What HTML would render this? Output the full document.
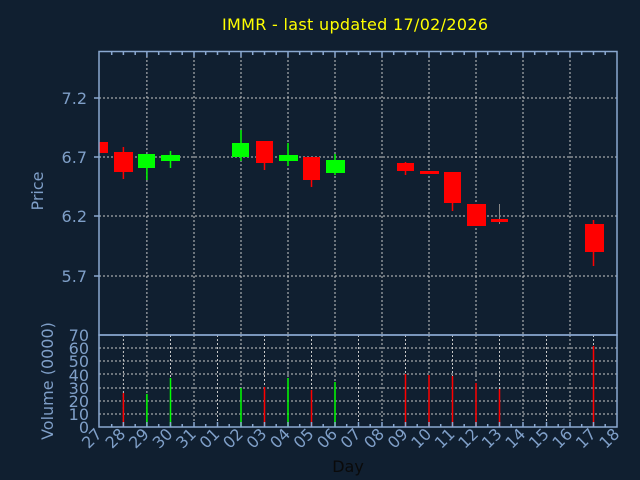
<!DOCTYPE html>
<html><head><meta charset="utf-8"><style>
html,body{margin:0;padding:0;background:#101f30;}
svg{display:block;font-family:"DejaVu Sans","Liberation Sans",sans-serif;}
</style></head><body>
<svg width="640" height="480" viewBox="0 0 640 480" xmlns="http://www.w3.org/2000/svg">
<rect width="640" height="480" fill="#101f30"/>
<text x="355" y="30" fill="#ffff00" font-size="16" text-anchor="middle" textLength="266">IMMR - last updated 17/02/2026</text>
<g stroke="#c8c8c8" stroke-width="1" stroke-dasharray="2,2" fill="none">
<line x1="99" y1="98" x2="617" y2="98"/><line x1="99" y1="157" x2="617" y2="157"/>
<line x1="99" y1="216" x2="617" y2="216"/><line x1="99" y1="276" x2="617" y2="276"/>
<line x1="146.9" y1="52" x2="146.9" y2="335"/><line x1="194" y1="52" x2="194" y2="335"/>
<line x1="241" y1="52" x2="241" y2="335"/><line x1="288" y1="52" x2="288" y2="335"/>
<line x1="335" y1="52" x2="335" y2="335"/><line x1="382" y1="52" x2="382" y2="335"/>
<line x1="429" y1="52" x2="429" y2="335"/><line x1="476" y1="52" x2="476" y2="335"/>
<line x1="523" y1="52" x2="523" y2="335"/><line x1="570" y1="52" x2="570" y2="335"/>
<line x1="99" y1="414" x2="617" y2="414"/><line x1="99" y1="401" x2="617" y2="401"/>
<line x1="99" y1="388" x2="617" y2="388"/><line x1="99" y1="374" x2="617" y2="374"/>
<line x1="99" y1="361" x2="617" y2="361"/><line x1="99" y1="348" x2="617" y2="348"/>
<line x1="123.4" y1="335" x2="123.4" y2="427"/><line x1="146.9" y1="335" x2="146.9" y2="427"/>
<line x1="170.5" y1="335" x2="170.5" y2="427"/><line x1="194" y1="335" x2="194" y2="427"/>
<line x1="217.5" y1="335" x2="217.5" y2="427"/><line x1="241" y1="335" x2="241" y2="427"/>
<line x1="264.5" y1="335" x2="264.5" y2="427"/><line x1="288" y1="335" x2="288" y2="427"/>
<line x1="311.5" y1="335" x2="311.5" y2="427"/><line x1="335" y1="335" x2="335" y2="427"/>
<line x1="358.5" y1="335" x2="358.5" y2="427"/><line x1="382" y1="335" x2="382" y2="427"/>
<line x1="405.5" y1="335" x2="405.5" y2="427"/><line x1="429" y1="335" x2="429" y2="427"/>
<line x1="452.5" y1="335" x2="452.5" y2="427"/><line x1="476" y1="335" x2="476" y2="427"/>
<line x1="499.5" y1="335" x2="499.5" y2="427"/><line x1="523" y1="335" x2="523" y2="427"/>
<line x1="546.5" y1="335" x2="546.5" y2="427"/><line x1="570" y1="335" x2="570" y2="427"/>
<line x1="593.5" y1="335" x2="593.5" y2="427"/>
</g>
<svg x="99" y="52" width="518" height="283" overflow="hidden">
<g transform="translate(-99,-52)">
<rect x="91" y="142" width="17" height="11" fill="#ff0000"/>
<line x1="123.4" y1="147" x2="123.4" y2="179" stroke="#ff0000" stroke-width="1.5"/><rect x="114" y="152" width="19" height="20" fill="#ff0000"/>
<line x1="146.9" y1="154" x2="146.9" y2="180" stroke="#00ff00" stroke-width="1.5"/><rect x="138" y="154" width="17" height="14" fill="#00ff00"/>
<line x1="170.5" y1="151" x2="170.5" y2="168" stroke="#00ff00" stroke-width="1.5"/><rect x="161" y="155" width="19" height="6" fill="#00ff00"/>
<line x1="241" y1="130" x2="241" y2="161" stroke="#00ff00" stroke-width="1.5"/><rect x="232" y="143" width="17" height="14" fill="#00ff00"/>
<line x1="264.5" y1="141" x2="264.5" y2="170" stroke="#ff0000" stroke-width="1.5"/><rect x="256" y="141" width="17" height="22" fill="#ff0000"/>
<line x1="288" y1="143" x2="288" y2="166" stroke="#00ff00" stroke-width="1.5"/><rect x="279" y="155" width="19" height="6" fill="#00ff00"/>
<line x1="311.5" y1="157" x2="311.5" y2="187" stroke="#ff0000" stroke-width="1.5"/><rect x="303" y="157" width="17" height="23" fill="#ff0000"/>
<line x1="335" y1="154" x2="335" y2="175" stroke="#00ff00" stroke-width="1.5"/><rect x="326" y="160" width="19" height="13" fill="#00ff00"/>
<line x1="405.5" y1="162" x2="405.5" y2="175" stroke="#ff0000" stroke-width="1.5"/><rect x="397" y="163" width="17" height="8" fill="#ff0000"/>
<rect x="420" y="171" width="19" height="3" fill="#ff0000"/>
<line x1="452.5" y1="172" x2="452.5" y2="211" stroke="#ff0000" stroke-width="1.5"/><rect x="444" y="172" width="17" height="31" fill="#ff0000"/>
<rect x="467" y="204" width="19" height="22" fill="#ff0000"/>
<line x1="499.5" y1="204" x2="499.5" y2="224" stroke="#888" stroke-width="1"/><rect x="491" y="219" width="17" height="3" fill="#ff0000"/>
<line x1="593.5" y1="220" x2="593.5" y2="266" stroke="#ff0000" stroke-width="1.5"/><rect x="585" y="224" width="19" height="28" fill="#ff0000"/>
</g></svg>
<g stroke-width="1.5">
<line x1="123.4" y1="393" x2="123.4" y2="427" stroke="#ff0000"/>
<line x1="146.9" y1="394" x2="146.9" y2="427" stroke="#00ff00"/>
<line x1="170.5" y1="378" x2="170.5" y2="427" stroke="#00ff00"/>
<line x1="241" y1="388" x2="241" y2="427" stroke="#00ff00"/>
<line x1="264.5" y1="387" x2="264.5" y2="427" stroke="#ff0000"/>
<line x1="288" y1="378" x2="288" y2="427" stroke="#00ff00"/>
<line x1="311.5" y1="390" x2="311.5" y2="427" stroke="#ff0000"/>
<line x1="335" y1="382" x2="335" y2="427" stroke="#00ff00"/>
<line x1="405.5" y1="374" x2="405.5" y2="427" stroke="#ff0000"/>
<line x1="429" y1="375" x2="429" y2="427" stroke="#ff0000"/>
<line x1="452.5" y1="376" x2="452.5" y2="427" stroke="#ff0000"/>
<line x1="476" y1="383" x2="476" y2="427" stroke="#ff0000"/>
<line x1="499.5" y1="389" x2="499.5" y2="427" stroke="#ff0000"/>
<line x1="593.5" y1="346" x2="593.5" y2="427" stroke="#ff0000"/>
</g>
<g stroke="#8aa8d0" stroke-width="1.5" fill="none">
<rect x="99" y="51.5" width="518" height="283.5"/>
<rect x="99" y="335" width="518" height="92"/>
<line x1="94" y1="98" x2="99" y2="98"/><line x1="94" y1="157" x2="99" y2="157"/>
<line x1="94" y1="216" x2="99" y2="216"/><line x1="94" y1="276" x2="99" y2="276"/>
<path d="M111.7 52v3M123.4 52v3M135.2 52v3M146.9 52v5M158.7 52v3M170.5 52v3M182.2 52v3M194 52v5M205.7 52v3M217.5 52v3M229.2 52v3M241 52v5M252.7 52v3M264.5 52v3M276.2 52v3M288 52v5M299.7 52v3M311.5 52v3M323.2 52v3M335 52v5M346.7 52v3M358.5 52v3M370.2 52v3M382 52v5M393.7 52v3M405.5 52v3M417.2 52v3M429 52v5M440.7 52v3M452.5 52v3M464.2 52v3M476 52v5M487.7 52v3M499.5 52v3M511.2 52v3M523 52v5M534.7 52v3M546.5 52v3M558.2 52v3M570 52v5M581.7 52v3M593.5 52v3M605.2 52v3"/>
<path d="M111.7 427v-3M123.4 427v-5M135.2 427v-3M146.9 427v-5M158.7 427v-3M170.5 427v-5M182.2 427v-3M194 427v-5M205.7 427v-3M217.5 427v-5M229.2 427v-3M241 427v-5M252.7 427v-3M264.5 427v-5M276.2 427v-3M288 427v-5M299.7 427v-3M311.5 427v-5M323.2 427v-3M335 427v-5M346.7 427v-3M358.5 427v-5M370.2 427v-3M382 427v-5M393.7 427v-3M405.5 427v-5M417.2 427v-3M429 427v-5M440.7 427v-3M452.5 427v-5M464.2 427v-3M476 427v-5M487.7 427v-3M499.5 427v-5M511.2 427v-3M523 427v-5M534.7 427v-3M546.5 427v-5M558.2 427v-3M570 427v-5M581.7 427v-3M593.5 427v-5M605.2 427v-3"/>
</g>
<g fill="#7f9fc8" font-size="16">
<text x="87" y="104" text-anchor="end">7.2</text>
<text x="87" y="163" text-anchor="end">6.7</text>
<text x="87" y="222" text-anchor="end">6.2</text>
<text x="87" y="282" text-anchor="end">5.7</text>
<text x="89" y="433" text-anchor="end">0</text>
<text x="89" y="420" text-anchor="end">10</text>
<text x="89" y="407" text-anchor="end">20</text>
<text x="89" y="394" text-anchor="end">30</text>
<text x="89" y="381" text-anchor="end">40</text>
<text x="89" y="367" text-anchor="end">50</text>
<text x="89" y="354" text-anchor="end">60</text>
<text x="89" y="341" text-anchor="end">70</text>
<text transform="translate(43,191) rotate(-90)" text-anchor="middle">Price</text>
<text transform="translate(53,381) rotate(-90)" text-anchor="middle">Volume (0000)</text>
</g>
<g fill="#7f9fc8" font-size="16" text-anchor="end">
<text transform="translate(103,435) rotate(-45)">27</text>
<text transform="translate(126.5,435) rotate(-45)">28</text>
<text transform="translate(150,435) rotate(-45)">29</text>
<text transform="translate(173.6,435) rotate(-45)">30</text>
<text transform="translate(197.1,435) rotate(-45)">31</text>
<text transform="translate(220.6,435) rotate(-45)">01</text>
<text transform="translate(244.1,435) rotate(-45)">02</text>
<text transform="translate(267.6,435) rotate(-45)">03</text>
<text transform="translate(291.2,435) rotate(-45)">04</text>
<text transform="translate(314.7,435) rotate(-45)">05</text>
<text transform="translate(338.2,435) rotate(-45)">06</text>
<text transform="translate(361.7,435) rotate(-45)">07</text>
<text transform="translate(385.2,435) rotate(-45)">08</text>
<text transform="translate(408.8,435) rotate(-45)">09</text>
<text transform="translate(432.3,435) rotate(-45)">10</text>
<text transform="translate(455.8,435) rotate(-45)">11</text>
<text transform="translate(479.3,435) rotate(-45)">12</text>
<text transform="translate(502.8,435) rotate(-45)">13</text>
<text transform="translate(526.4,435) rotate(-45)">14</text>
<text transform="translate(549.9,435) rotate(-45)">15</text>
<text transform="translate(573.4,435) rotate(-45)">16</text>
<text transform="translate(596.9,435) rotate(-45)">17</text>
<text transform="translate(620.4,435) rotate(-45)">18</text>
</g>
<text x="348" y="472" fill="#0a0a0a" font-size="16" text-anchor="middle">Day</text>
</svg>
</body></html>
